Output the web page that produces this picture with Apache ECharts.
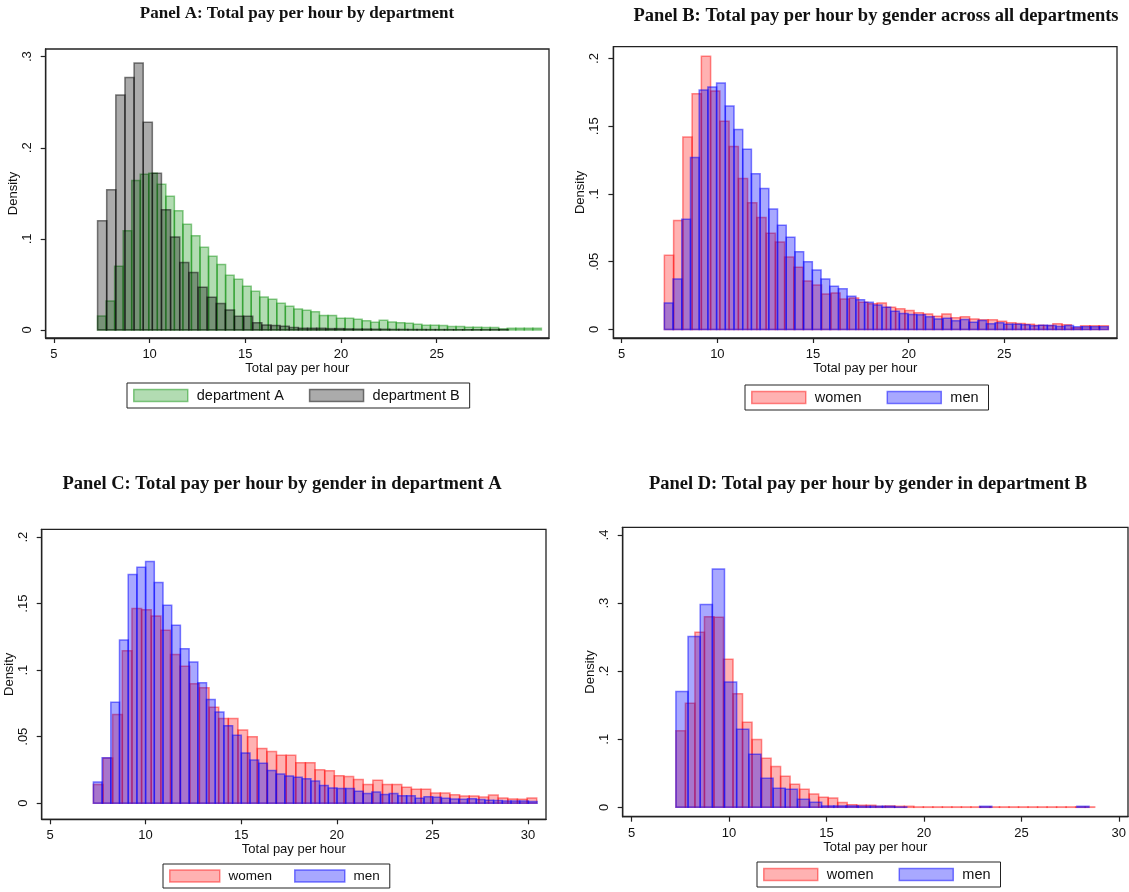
<!DOCTYPE html>
<html>
<head>
<meta charset="utf-8">
<script src="https://cdn.jsdelivr.net/npm/echarts@6/dist/echarts.min.js"></script>
<style>
html, body { margin: 0; padding: 0; background: #fff; }
#main { width: 1129px; height: 892px; }
</style>
</head>
<body>
<div id="main"></div>
<script>
// bin heights (density); bins start at *Start, width *Width
var deptAStart = 7.28, deptAWidth = 0.446;
var deptA = [0.0154, 0.0318, 0.070, 0.109, 0.164, 0.171, 0.172, 0.160, 0.1467, 0.131,
    0.116, 0.1035, 0.0907, 0.0809, 0.072, 0.060, 0.0556, 0.048, 0.0424, 0.0362,
    0.0337, 0.0293, 0.026, 0.023, 0.0216, 0.020, 0.016, 0.016, 0.013, 0.0128,
    0.0117, 0.0102, 0.0084, 0.0106, 0.0088, 0.008, 0.0073, 0.0062, 0.0051, 0.0051,
    0.0048, 0.0037, 0.0037, 0.003, 0.003, 0.0026, 0.0026, 0.0012, 0.0018, 0.0018,
    0.0018, 0.0018];
var deptBStart = 7.28, deptBWidth = 0.477;
var deptB = [0.120, 0.154, 0.258, 0.277, 0.293, 0.228, 0.172, 0.132, 0.102, 0.074,
    0.063, 0.047, 0.036, 0.029, 0.022, 0.015, 0.015, 0.008, 0.0055, 0.005,
    0.004, 0.0026, 0.002, 0.002, 0.0018, 0.0015, 0.0015, 0.0012, 0.001, 0.001,
    0.0008, 0.0008, 0.0006, 0.0006, 0.0005, 0.0005, 0.0004, 0.0004, 0.0004, 0.0003,
    0.0003, 0.0003, 0.0003, 0.0005, 0.0005];

var allWomenStart = 7.23, allWomenWidth = 0.4835;
var allWomen = [0.0547, 0.0804, 0.142, 0.174, 0.2017, 0.176, 0.1537, 0.135, 0.1115, 0.0936,
    0.0826, 0.0711, 0.0645, 0.0534, 0.046, 0.0358, 0.0328, 0.0262, 0.027, 0.0225,
    0.0233, 0.020, 0.019, 0.0196, 0.0164, 0.0152, 0.014, 0.0123, 0.0115, 0.0098,
    0.0115, 0.0086, 0.0093, 0.0078, 0.0071, 0.0071, 0.0061, 0.0049, 0.0044, 0.0039,
    0.0032, 0.0029, 0.0042, 0.0034, 0.0012, 0.0027, 0.0027, 0.0027];
var allMenStart = 7.23, allMenWidth = 0.455;
var allMen = [0.0196, 0.0373, 0.0814, 0.127, 0.1767, 0.179, 0.182, 0.165, 0.1475, 0.133,
    0.115, 0.104, 0.089, 0.077, 0.068, 0.0574, 0.050, 0.0439, 0.0373, 0.0319,
    0.030, 0.0245, 0.022, 0.020, 0.018, 0.0164, 0.0135, 0.0118, 0.011, 0.0108,
    0.0093, 0.0078, 0.0083, 0.0064, 0.0074, 0.0054, 0.0066, 0.0042, 0.0049, 0.0039,
    0.0039, 0.0034, 0.0027, 0.0032, 0.0029, 0.0022, 0.0029, 0.002, 0.002, 0.002,
    0.002];

var aWomenStart = 7.27, aWomenWidth = 0.504;
var aWomen = [0.014, 0.034, 0.0666, 0.1146, 0.1463, 0.1454, 0.1407, 0.130, 0.1117, 0.103,
    0.0898, 0.0868, 0.0722, 0.0637, 0.0637, 0.0551, 0.050, 0.0412, 0.0388, 0.036,
    0.036, 0.0305, 0.0305, 0.0251, 0.0244, 0.0207, 0.020, 0.0178, 0.0141, 0.0173,
    0.0141, 0.0141, 0.012, 0.0105, 0.0105, 0.0076, 0.0076, 0.0063, 0.0054, 0.0054,
    0.0046, 0.0061, 0.0039, 0.0032, 0.0029, 0.0039];
var aMenStart = 7.27, aMenWidth = 0.455;
var aMen = [0.0159, 0.0341, 0.0759, 0.1227, 0.172, 0.1773, 0.1817, 0.1659, 0.1488, 0.1337,
    0.1161, 0.1061, 0.0905, 0.078, 0.0685, 0.0583, 0.051, 0.0378, 0.0324, 0.030,
    0.0246, 0.022, 0.0205, 0.0195, 0.0183, 0.0166, 0.0134, 0.0115, 0.011, 0.011,
    0.009, 0.0073, 0.0085, 0.0066, 0.0073, 0.0056, 0.0056, 0.0037, 0.0049, 0.0044,
    0.0037, 0.0032, 0.0029, 0.0034, 0.0027, 0.0022, 0.002, 0.0017, 0.0017, 0.0017,
    0.0012];

var bWomenStart = 7.27, bWomenWidth = 0.4884;
var bWomen = [0.1123, 0.153, 0.257, 0.280, 0.279, 0.2176, 0.1667, 0.125, 0.0995, 0.072,
    0.0598, 0.0456, 0.0338, 0.0265, 0.0196, 0.0147, 0.0137, 0.0069, 0.0039, 0.003,
    0.003, 0.0015, 0.002, 0.0015, 0.0015, 0.0006, 0.0006, 0.0006, 0.0006, 0.0006,
    0.0006, 0.0006, 0.0006, 0.0006, 0.0006, 0.0006, 0.0006, 0.0006, 0.0006, 0.0006,
    0.0006, 0.0006, 0.0006, 0.0006];
var bMenStart = 7.27, bMenWidth = 0.6235;
var bMen = [0.170, 0.251, 0.298, 0.350, 0.184, 0.1147, 0.078, 0.0426, 0.028, 0.0265,
    0.0118, 0.0074, 0.002, 0.002, 0.002, 0.0015, 0.0015, 0.0015, 0.0005, 0,
    0, 0, 0, 0, 0, 0.0015, 0, 0, 0, 0,
    0, 0, 0, 0.0015];

var ticksAB = [5, 10, 15, 20, 25];
var ticksCD = [5, 10, 15, 20, 25, 30];
var yTicksA = [0, 0.1, 0.2, 0.3];
var yTicksBC = [0, 0.05, 0.1, 0.15, 0.2];
var yTicksD = [0, 0.1, 0.2, 0.3, 0.4];

var GREEN = {fill: 'rgba(0,140,0,0.3)', stroke: 'rgba(0,140,0,0.45)'};
var GRAY = {fill: 'rgba(0,0,0,0.33)', stroke: 'rgba(0,0,0,0.5)'};
var RED = {fill: 'rgba(255,0,0,0.3)', stroke: 'rgba(255,0,0,0.45)'};
var BLUE = {fill: 'rgba(0,0,255,0.34)', stroke: 'rgba(0,0,255,0.5)'};

var sans = 'Liberation Sans';

function hist(name, heights, start, width, idx, col) {
    return {
        type: 'custom',
        name: name,
        xAxisIndex: idx,
        yAxisIndex: idx,
        data: heights.map(function (h, i) { return [start + i * width, start + (i + 1) * width, h]; }),
        encode: {x: [0, 1], y: 2},
        itemStyle: {color: col.fill, borderColor: col.stroke},
        renderItem: function (params, api) {
            var h = api.value(2);
            if (!h) return null;
            var a = api.coord([api.value(0), h]);
            var b = api.coord([api.value(1), 0]);
            return {
                type: 'rect',
                shape: {x: a[0], y: a[1], width: b[0] - a[0], height: b[1] - a[1]},
                style: {fill: col.fill, stroke: col.stroke, lineWidth: 1.5}
            };
        }
    };
}

function grid(left, top, width, height) {
    return {left: left, top: top, width: width, height: height, show: true,
        borderColor: '#222', borderWidth: 1.3, containLabel: false, outerBoundsMode: 'none'};
}

function xAxis(idx, min, max, ticks) {
    return {
        type: 'value', gridIndex: idx, min: min, max: max,
        name: 'Total pay per hour', nameLocation: 'middle', nameGap: 23,
        nameTextStyle: {fontSize: 13, color: '#111', fontFamily: sans},
        axisLine: {show: true, onZero: false, lineStyle: {color: '#222', width: 1.3}},
        axisTick: {show: true, length: 5, customValues: ticks, lineStyle: {color: '#222', width: 1.2}},
        axisLabel: {customValues: ticks, margin: 10, fontSize: 13, color: '#111', fontFamily: sans},
        splitLine: {show: false}
    };
}

function yAxis(idx, min, max, ticks) {
    return {
        type: 'value', gridIndex: idx, min: min, max: max,
        name: 'Density', nameLocation: 'middle', nameGap: 26, nameRotate: 90,
        nameTextStyle: {fontSize: 13, color: '#111', fontFamily: sans},
        axisLine: {show: true, onZero: false, lineStyle: {color: '#222', width: 1.3}},
        axisTick: {show: true, length: 5, customValues: ticks, lineStyle: {color: '#222', width: 1.2}},
        axisLabel: {customValues: ticks, margin: 12, rotate: 90, fontSize: 13, color: '#111', fontFamily: sans,
            formatter: function (v) { return v === 0 ? '0' : String(+v.toFixed(3)).replace(/^0/, ''); }},
        splitLine: {show: false}
    };
}

function legend(left, top, names, cols, fs, iw, gap) {
    return {
        left: left, top: top, orient: 'horizontal', icon: 'rect',
        itemWidth: iw, itemHeight: 12, itemGap: gap,
        padding: [5, 10, 5, 6], borderColor: '#222', borderWidth: 1,
        formatter: ' {name}',
        textStyle: {fontSize: fs, color: '#111', fontFamily: sans},
        selectedMode: false,
        data: names.map(function (n, i) {
            return {name: n, itemStyle: {color: cols[i].fill, borderColor: cols[i].stroke, borderWidth: 1.5}};
        })
    };
}

function title(x, y, text, size) {
    return {type: 'text', x: x, y: y,
        style: {text: text, font: 'bold ' + size + 'px "Liberation Serif"', fill: '#111', align: 'center', verticalAlign: 'middle'}};
}

var myChart = echarts.init(document.getElementById('main'));

option = {
    animation: false,
    backgroundColor: '#fff',
    graphic: [
        title(297, 14, 'Panel A: Total pay per hour by department', 17),
        title(876, 16, 'Panel B: Total pay per hour by gender across all departments', 18.5),
        title(282, 484, 'Panel C: Total pay per hour by gender in department A', 18.5),
        title(868, 484, 'Panel D: Total pay per hour by gender in department B', 18.5)
    ],
    grid: [
        grid(45.7, 49, 503.3, 289),
        grid(613.4, 46.7, 503.6, 291.3),
        grid(41.7, 529.3, 504.3, 290),
        grid(622.7, 527.3, 505.3, 289.4)
    ],
    xAxis: [
        xAxis(0, 4.57, 30.87, ticksAB),
        xAxis(1, 4.566, 30.89, ticksAB),
        xAxis(2, 4.566, 30.94, ticksCD),
        xAxis(3, 4.54, 30.47, ticksCD)
    ],
    yAxis: [
        yAxis(0, -0.0088, 0.3084, yTicksA),
        yAxis(1, -0.0063, 0.2087, yTicksBC),
        yAxis(2, -0.0121, 0.2059, yTicksBC),
        yAxis(3, -0.0138, 0.4113, yTicksD)
    ],
    legend: [
        legend(127, 383, ['department A', 'department B'], [GREEN, GRAY], 14.5, 54, 25),
        legend(745, 385, ['women', 'men'], [RED, BLUE], 14.5, 54, 25),
        legend(163, 864, ['women', 'men'], [RED, BLUE], 13.5, 50, 22),
        legend(757, 862, ['women', 'men'], [RED, BLUE], 14.5, 54, 25)
    ],
    series: [
        hist('department A', deptA, deptAStart, deptAWidth, 0, GREEN),
        hist('department B', deptB, deptBStart, deptBWidth, 0, GRAY),
        hist('women', allWomen, allWomenStart, allWomenWidth, 1, RED),
        hist('men', allMen, allMenStart, allMenWidth, 1, BLUE),
        hist('women', aWomen, aWomenStart, aWomenWidth, 2, RED),
        hist('men', aMen, aMenStart, aMenWidth, 2, BLUE),
        hist('women', bWomen, bWomenStart, bWomenWidth, 3, RED),
        hist('men', bMen, bMenStart, bMenWidth, 3, BLUE)
    ]
};

myChart.setOption(option);
</script>
</body>
</html>
